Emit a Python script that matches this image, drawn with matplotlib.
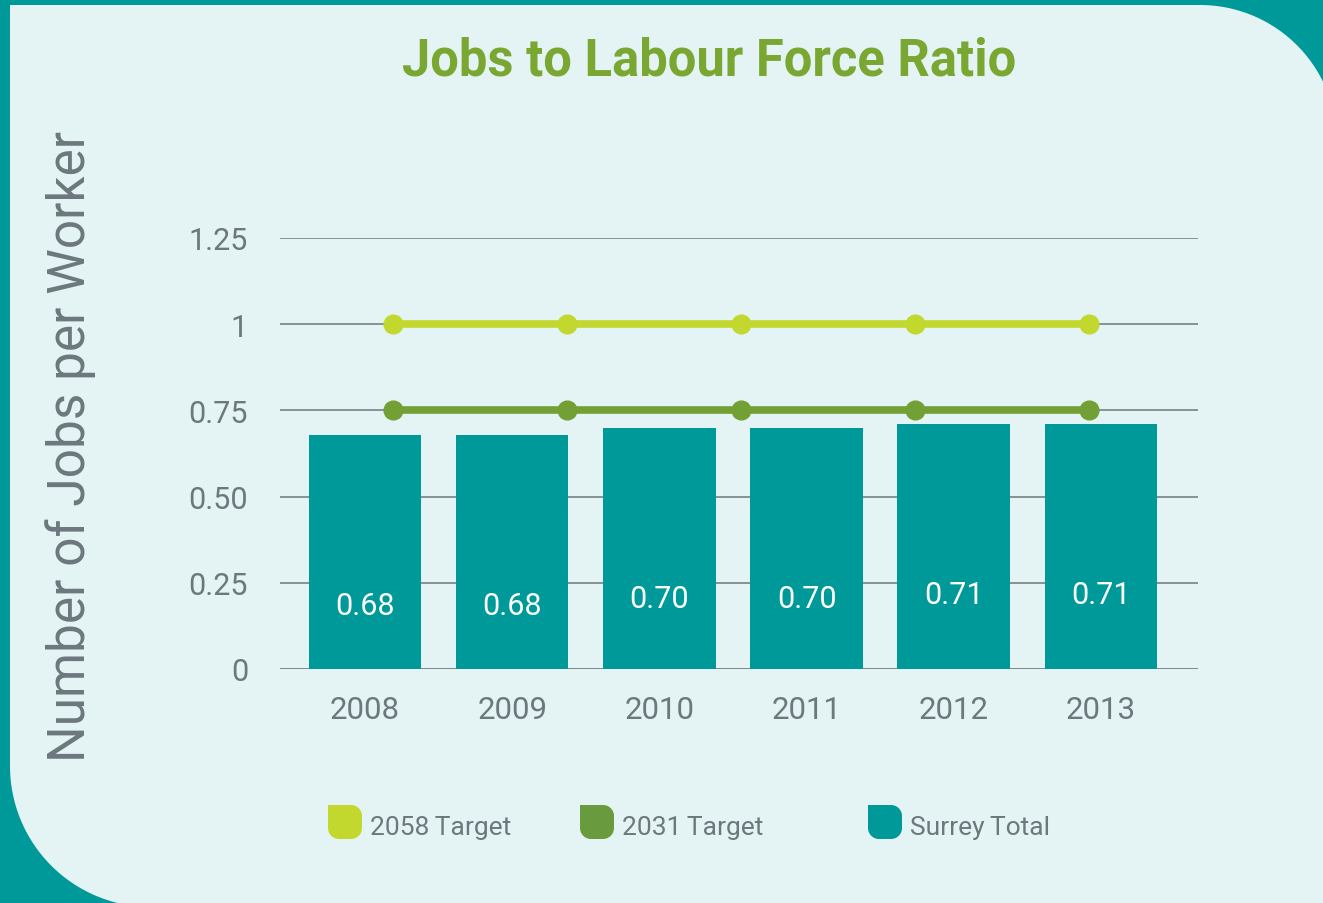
import numpy as np
import matplotlib
matplotlib.use("Agg")
import matplotlib.pyplot as plt
from matplotlib.patches import Polygon

# ---- data ----
years = ["2008", "2009", "2010", "2011", "2012", "2013"]
surrey_total = [0.68, 0.68, 0.70, 0.70, 0.71, 0.71]
target_2058 = [1.0, 1.0, 1.0, 1.0, 1.0]
target_2031 = [0.75, 0.75, 0.75, 0.75, 0.75]
y_ticks = [0, 0.25, 0.50, 0.75, 1.0, 1.25]
y_tick_labels = ["0", "0.25", "0.50", "0.75", "1", "1.25"]
series_names = ["2058 Target", "2031 Target", "Surrey Total"]

# ---- styling ----
TEAL = "#009999"
PANEL = "#e4f4f4"
TITLE_GREEN = "#7aa632"
LIGHT_GREEN = "#c3d82e"
DARK_GREEN = "#72a035"
SWATCH_DARK = "#6a9a3e"
GRAY = "#6c787d"
GRID = "#7f8a8c"

plt.rcParams["font.family"] = ["Roboto", "DejaVu Sans"]

W, H = 1323, 904
fig = plt.figure(figsize=(W / 100, H / 100), dpi=100)
fig.patch.set_facecolor(TEAL)


def to_disp(pts):
    pts = np.asarray(pts, dtype=float)
    return np.column_stack([pts[:, 0], H - pts[:, 1]])


# background panel: square top-left, rounded top-right and bottom-left
t = np.linspace(0, np.pi / 2, 60)
R1, c1 = 137, (1200, 143)
R2, c2 = 141, (151, 767)
pts = [(10, 6), (1200, 6)]
pts += list(zip(c1[0] + R1 * np.sin(t), c1[1] - R1 * np.cos(t)))
pts += [(1345, 920), (151, 920)]
pts += list(zip(c2[0] - R2 * np.sin(t), c2[1] + R2 * np.cos(t)))
panel = Polygon(to_disp(pts), closed=True, facecolor=PANEL, edgecolor="none",
                transform=None, zorder=-10)
fig.patches.append(panel)

# ---- main axes ----
ax = fig.add_axes([280 / W, 1 - 670 / H, (1198 - 280) / W, (670 - 239) / H])
ax.set_zorder(1)
ax.set_facecolor("none")
x = np.arange(len(years))
ax.set_xlim(-0.577, 5.659)
ax.set_ylim(0, 1.25)
for s in ax.spines.values():
    s.set_visible(False)

ax.set_yticks(y_ticks)
ax.set_yticklabels(y_tick_labels)
ax.yaxis.grid(True, color=GRID, linewidth=1.3)
ax.set_axisbelow(True)
ax.tick_params(axis="y", length=0, pad=23, labelsize=22, labelcolor=GRAY)
ax.set_xticks(x)
ax.set_xticklabels(years)
ax.tick_params(axis="x", length=0, pad=19, labelsize=22.5, labelcolor=GRAY)
ax.axhline(0, color=GRID, linewidth=1.3, zorder=0.5)

bars = ax.bar(x, surrey_total, width=0.765, color=TEAL, zorder=2)
for xi, v in zip(x, surrey_total):
    ax.text(xi, v - 0.495, f"{v:.2f}", ha="center", va="center",
            color="white", fontsize=22, zorder=3)

# target lines on their own evenly spaced positions
ax2 = ax.twiny()
ax2.set_zorder(2)
ax2.set_xlim(-0.649, 4.626)
ax2.set_ylim(0, 1.25)
ax2.axis("off")
xl = np.arange(len(target_2058))
ax2.plot(xl, target_2058, color=LIGHT_GREEN, lw=5.5, marker="o",
         markersize=13.5, solid_capstyle="round", zorder=4)
ax2.plot(xl, target_2031, color=DARK_GREEN, lw=5.5, marker="o",
         markersize=13.5, solid_capstyle="round", zorder=4)

# ---- title and axis label ----
fig.text(709 / W, 1 - 61 / H, "Jobs to Labour Force Ratio", ha="center",
         va="center", fontsize=36.5, fontweight="bold", color=TITLE_GREEN)
fig.text(71 / W, 1 - 446 / H, "Number of Jobs per Worker", ha="center",
         va="center", rotation=90, fontsize=37, color=GRAY)


# ---- legend ----
def leaf(x0, y0, s, r):
    """Swatch with a square top-left corner and rounded others (image coords)."""
    a = np.linspace(0, np.pi / 2, 20)
    p = [(x0, y0), (x0 + s - r, y0)]
    p += list(zip(x0 + s - r + r * np.sin(a), y0 + r - r * np.cos(a)))
    p += list(zip(x0 + s - r + r * np.cos(a), y0 + s - r + r * np.sin(a)))
    p += list(zip(x0 + r - r * np.sin(a), y0 + s - r + r * np.cos(a)))
    return to_disp(p)


legend_colors = [LIGHT_GREEN, SWATCH_DARK, TEAL]
legend_x = [328, 580, 868]
for name, col, lx in zip(series_names, legend_colors, legend_x):
    fig.patches.append(Polygon(leaf(lx, 806, 34, 11), closed=True, facecolor=col,
                               edgecolor="none", transform=None, zorder=2))
    fig.text((lx + 42) / W, 1 - 835 / H, name.replace(" ", "\u2009"),
             ha="left", va="baseline", fontsize=19, color=GRAY)

fig.savefig("out.png", dpi=100, facecolor=fig.get_facecolor())
